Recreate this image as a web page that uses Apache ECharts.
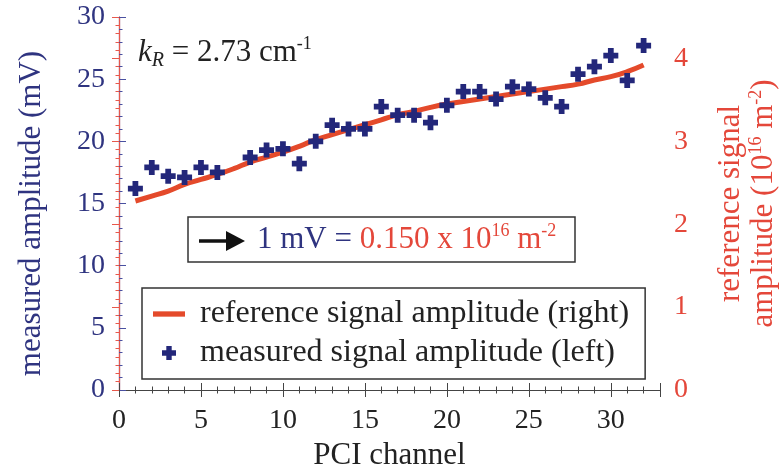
<!DOCTYPE html>
<html><head><meta charset="utf-8">
<script src="https://cdn.jsdelivr.net/npm/echarts@6/dist/echarts.min.js"></script>
<style>html,body{margin:0;padding:0;background:#fff}#c{width:780px;height:468px}</style>
</head><body><div id="c"></div>
<script>
// measured signal amplitude (left axis, mV); channel 7 has no point
const measChannels = [1,2,3,4,5,6,8,9,10,11,12,13,14,15,16,17,18,19,20,21,22,23,24,25,26,27,28,29,30,31,32];
const measValues   = [16.2,17.9,17.2,17.1,17.9,17.5,18.7,19.3,19.4,18.2,20.0,21.3,21.0,21.0,22.8,22.1,22.1,21.5,22.9,24.0,24.0,23.4,24.4,24.2,23.5,22.8,25.4,26.0,26.9,24.9,27.7];
// reference signal amplitude (right axis, 10^16 m^-2)
const refChannels = [1,2,3,4,5,6,7,8,9,10,11,12,13,14,15,16,17,18,19,20,21,22,23,24,25,26,27,28,29,30,31,32];
const refValues   = [2.28,2.34,2.40,2.48,2.54,2.60,2.67,2.75,2.81,2.87,2.94,3.02,3.08,3.14,3.20,3.26,3.32,3.36,3.41,3.45,3.48,3.51,3.54,3.57,3.60,3.63,3.66,3.69,3.74,3.78,3.84,3.92];
const xTicks = [0,5,10,15,20,25,30];
const leftTicks = [0,5,10,15,20,25,30];
const rightTicks = [0,1,2,3,4];

const NAVY = '#2f3480', RED = '#e4473a', LINE = '#e44a2b', CROSS = '#23277a';
const FONT = "'Liberation Serif','Times New Roman',serif";
const PLUS = 'path://M4,0H9V4H13V9H9V13H4V9H0V4H4Z';
const BAR = 'path://M0,0H30V5H0Z';
const G = {left:119, right:120, top:17, bottom:78, containLabel:false, outerBoundsMode:'none'};

const chart = echarts.init(document.getElementById('c'));
const majTick = (c)=>({show:true, inside:true, length:7, lineStyle:{color:c, width:1}});
const minTick = (c)=>({show:true, inside:true, length:3.5, lineStyle:{color:c, width:1}});

chart.setOption({
  animation:false,
  backgroundColor:'#fff',
  grid:[Object.assign({}, G), Object.assign({}, G)],
  legend:{
    orient:'vertical', left:142, top:288, symbolKeepAspect:true,
    padding:[8,16,8,11], itemGap:3, itemWidth:32, itemHeight:14,
    borderColor:'#333', borderWidth:1.5, borderRadius:0,
    textStyle:{fontFamily:FONT, fontSize:32, color:'#222', lineHeight:36, padding:[0,0,0,10]},
    data:[{name:'reference signal amplitude (right)', icon:BAR, itemStyle:{color:LINE}},
          {name:'measured signal amplitude (left)', icon:PLUS, itemStyle:{opacity:1}}]
  },
  xAxis:[
    {gridIndex:0, type:'value', position:'bottom', min:0, max:33, interval:5,
     axisLine:{lineStyle:{color:'#444', width:1.2}}, axisTick:majTick('#444'), splitLine:{show:false},
     axisLabel:{fontFamily:FONT, fontSize:28, color:'#222', margin:17,
       formatter:(v)=> xTicks.indexOf(v)>=0 ? String(v) : ''},
     name:'PCI channel', nameLocation:'middle', nameGap:45,
     nameTextStyle:{fontFamily:FONT, fontSize:31, color:'#222'}},
    {gridIndex:0, type:'value', position:'top', min:0, max:33, interval:5,
     axisLine:{lineStyle:{color:'#444', width:1.2}}, axisTick:majTick('#444'), axisLabel:{show:false}, splitLine:{show:false}},
    {gridIndex:1, type:'value', position:'bottom', min:0, max:33, interval:1,
     axisLine:{show:false}, axisTick:minTick('#444'), axisLabel:{show:false}, splitLine:{show:false}},
    {gridIndex:1, type:'value', position:'top', min:0, max:33, interval:1,
     axisLine:{show:false}, axisTick:minTick('#444'), axisLabel:{show:false}, splitLine:{show:false}}
  ],
  yAxis:[
    {gridIndex:0, type:'value', position:'left', min:0, max:30, interval:5,
     axisLine:{show:true, lineStyle:{color:'#4a50a0', width:1.2}}, axisTick:majTick('#4a50a0'), splitLine:{show:false},
     minorTick:{show:true, splitNumber:5, length:3.5, lineStyle:{color:'#4a50a0'}},
     axisLabel:{fontFamily:FONT, fontSize:28, color:NAVY, margin:14,
       formatter:(v)=> leftTicks.indexOf(v)>=0 ? String(v) : ''},
     name:'measured amplitude (mV)', nameLocation:'middle', nameGap:72,
     nameTextStyle:{fontFamily:FONT, fontSize:31, color:NAVY, padding:[0,20,0,0]}},
    {gridIndex:0, type:'value', position:'right', min:0, max:4.5, interval:1,
     axisLine:{show:true, lineStyle:{color:'#e8584c', width:1.2}}, axisTick:majTick('#e8584c'), splitLine:{show:false},
     axisLabel:{fontFamily:FONT, fontSize:28, color:RED, margin:14,
       formatter:(v)=> rightTicks.indexOf(v)>=0 ? String(v) : ''},
     name:'{n|reference signal}\n{n|amplitude (10}{s|16}{n| m}{s|-2}{n|)}', nameLocation:'middle', nameGap:54, nameRotate:90,
     nameTextStyle:{fontFamily:FONT, fontSize:31, color:RED,
       rich:{n:{fontFamily:FONT, fontSize:31, color:RED, lineHeight:33},
             s:{fontFamily:FONT, fontSize:18, color:RED, lineHeight:20, verticalAlign:'top'}}}},
    {gridIndex:1, type:'value', position:'left', min:0, max:30, interval:1,
     axisLine:{show:false}, axisTick:{show:false}, axisLabel:{show:false}, splitLine:{show:false}},
    {gridIndex:1, type:'value', position:'right', min:0, max:4.5, interval:0.1,
     axisLine:{show:false}, axisTick:minTick('#e8584c'), axisLabel:{show:false}, splitLine:{show:false}}
  ],
  series:[
    {name:'reference signal amplitude (right)', type:'line', xAxisIndex:0, yAxisIndex:1,
     smooth:true, symbol:'none',
     lineStyle:{color:LINE, width:5}, itemStyle:{color:LINE}, z:2,
     data: refChannels.map((c,i)=>[c, refValues[i]])},
    {name:'measured signal amplitude (left)', type:'scatter', xAxisIndex:0, yAxisIndex:0,
     symbol:PLUS, symbolSize:15, itemStyle:{color:CROSS, opacity:1}, z:3,
     data: measChannels.map((c,i)=>[c, measValues[i]])}
  ],
  graphic:[
    {type:'text', left:138, top:35, z:10,
     style:{text:'{k|k}{sub|R}{t| = 2.73 cm}{sup|-1}', fill:'#222',
       rich:{k:{fontFamily:FONT, fontStyle:'italic', fontSize:31, lineHeight:36, fill:'#222'},
             sub:{fontFamily:FONT, fontStyle:'italic', fontSize:20, lineHeight:20, verticalAlign:'bottom', fill:'#222'},
             t:{fontFamily:FONT, fontSize:31, lineHeight:36, fill:'#222'},
             sup:{fontFamily:FONT, fontSize:18, lineHeight:20, verticalAlign:'top', fill:'#222'}}}},
    {type:'rect', shape:{x:188, y:217, width:387, height:45}, style:{fill:'#fff', stroke:'#333', lineWidth:1.5}, z:5},
    {type:'line', shape:{x1:199, y1:241, x2:230, y2:241}, style:{stroke:'#111', lineWidth:3.5}, z:6},
    {type:'polygon', shape:{points:[[226,231],[245,241],[226,251]]}, style:{fill:'#111'}, z:6},
    {type:'text', left:257, top:222, z:6,
     style:{text:'{a|1 mV = }{r|0.150 x 10}{s|16}{r| m}{s|-2}',
       rich:{a:{fontFamily:FONT, fontSize:31, lineHeight:36, fill:NAVY},
             r:{fontFamily:FONT, fontSize:31, lineHeight:36, fill:RED},
             s:{fontFamily:FONT, fontSize:18, lineHeight:20, verticalAlign:'top', fill:RED}}}}
  ]
});
</script></body></html>
